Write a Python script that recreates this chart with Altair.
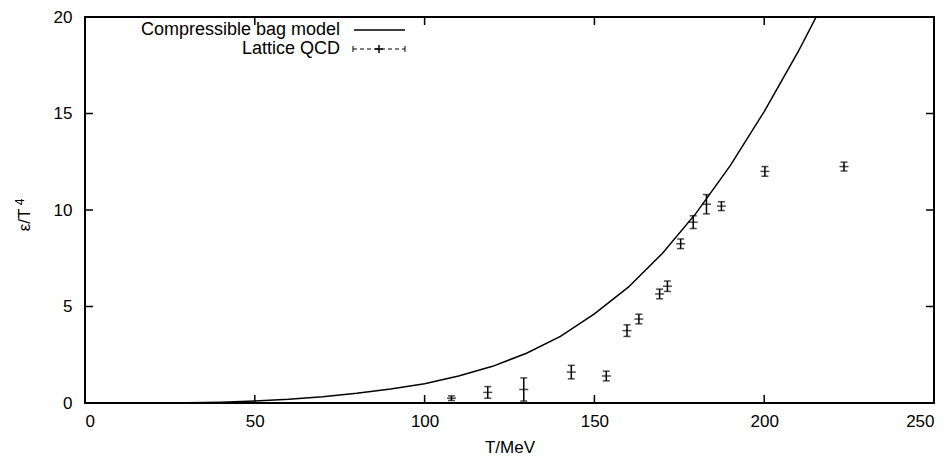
import altair as alt
import pandas as pd

# Compressible bag model curve
bag_T = [0, 10, 20, 30, 40, 50, 60, 70, 80, 90, 100, 110, 120, 130, 140, 150, 160, 170, 180, 190, 200, 210, 220]
bag_e = [0, 0, 0.002, 0.01, 0.04, 0.1, 0.19, 0.32, 0.5, 0.72, 1.0, 1.4, 1.9, 2.58, 3.45, 4.62, 6.0, 7.75, 9.85, 12.3, 15.1, 18.2, 21.6]

# Lattice QCD points with errors
lat_T = [107.9, 118.6, 129.2, 143.2, 153.5, 159.6, 163.1, 169.2, 171.5, 175.4, 179.1, 183.0, 187.4, 200.2, 223.5]
lat_e = [0.25, 0.55, 0.70, 1.60, 1.40, 3.75, 4.35, 5.65, 6.05, 8.25, 9.37, 10.30, 10.20, 12.00, 12.25]
lat_err = [0.12, 0.30, 0.60, 0.35, 0.25, 0.30, 0.25, 0.25, 0.27, 0.25, 0.33, 0.50, 0.23, 0.25, 0.23]

x_ticks = [0, 50, 100, 150, 200, 250]
y_ticks = [0, 5, 10, 15, 20]

W, H = 849, 386
FONT = "Liberation Sans"
FS = 17

bag = pd.DataFrame({"T": bag_T, "e": bag_e})
lat = pd.DataFrame({"T": lat_T, "e": lat_e,
                    "lo": [a - b for a, b in zip(lat_e, lat_err)],
                    "hi": [a + b for a, b in zip(lat_e, lat_err)]})

xs = alt.Scale(domain=[0, 250], nice=False, zero=False)
ys = alt.Scale(domain=[0, 20], nice=False, zero=False)

X = alt.X("T:Q", scale=xs, axis=alt.Axis(
    title="T/MeV", values=x_ticks, ticks=False, grid=False, domain=False,
    labelPadding=10, labelFont=FONT, labelFontSize=FS, labelColor="black",
    labelFontWeight="normal", titleFont=FONT, titleFontSize=FS, titleFontWeight="normal",
    titleColor="black", titleY=44, titleBaseline="middle"))
Y = alt.Y("e:Q", scale=ys, axis=alt.Axis(
    title="", values=y_ticks, ticks=False, grid=False, domain=False,
    labelPadding=13, labelFont=FONT, labelFontSize=FS, labelColor="black"))

line = alt.Chart(bag).mark_line(color="black", strokeWidth=1.5, clip=True).encode(x=X, y=Y)

bars = alt.Chart(lat).mark_rule(color="black", strokeWidth=1.5).encode(
    x=alt.X("T:Q", scale=xs), y=alt.Y("lo:Q", scale=ys), y2="hi:Q")
cap_lo = alt.Chart(lat).mark_tick(orient="horizontal", color="black", size=7, thickness=1.5).encode(
    x=alt.X("T:Q", scale=xs), y=alt.Y("lo:Q", scale=ys))
cap_hi = alt.Chart(lat).mark_tick(orient="horizontal", color="black", size=7, thickness=1.5).encode(
    x=alt.X("T:Q", scale=xs), y=alt.Y("hi:Q", scale=ys))
center = alt.Chart(lat).mark_tick(orient="horizontal", color="black", size=9, thickness=1.5).encode(
    x=alt.X("T:Q", scale=xs), y=alt.Y("e:Q", scale=ys))

# inward ticks on all four sides
xt = pd.DataFrame({"T": x_ticks})
yt = pd.DataFrame({"e": y_ticks})
tb = alt.Chart(xt).mark_rule(color="black", strokeWidth=1.5).encode(
    x=alt.X("T:Q", scale=xs), y=alt.value(H), y2=alt.value(H - 8))
tt = alt.Chart(xt).mark_rule(color="black", strokeWidth=1.5).encode(
    x=alt.X("T:Q", scale=xs), y=alt.value(0), y2=alt.value(8))
tl = alt.Chart(yt).mark_rule(color="black", strokeWidth=1.5).encode(
    y=alt.Y("e:Q", scale=ys), x=alt.value(0), x2=alt.value(8))
tr = alt.Chart(yt).mark_rule(color="black", strokeWidth=1.5).encode(
    y=alt.Y("e:Q", scale=ys), x=alt.value(W), x2=alt.value(W - 8))

# y-axis title: ε/T with superscript 4
ytitle = alt.Chart(pd.DataFrame({"t": ["ε/T"]})).mark_text(
    angle=270, align="center", baseline="middle", font=FONT, fontSize=FS, color="black").encode(
    text="t:N", x=alt.value(-60), y=alt.value(203))
ysup = alt.Chart(pd.DataFrame({"t": ["4"]})).mark_text(
    angle=270, align="center", baseline="middle", font=FONT, fontSize=12, color="black").encode(
    text="t:N", x=alt.value(-65), y=alt.value(185))

# legend
leg_text = alt.Chart(pd.DataFrame({"label": ["Compressible bag model"]})).mark_text(
    align="right", baseline="middle", font=FONT, fontSize=18, color="black").encode(
    text="label:N", x=alt.value(255), y=alt.value(13))
leg_text2 = alt.Chart(pd.DataFrame({"label": ["Lattice QCD"]})).mark_text(
    align="right", baseline="middle", font=FONT, fontSize=18, color="black").encode(
    text="label:N", x=alt.value(255), y=alt.value(32))
leg_l1 = alt.Chart(pd.DataFrame({"a": [0]})).mark_rule(color="black", strokeWidth=1.5).encode(
    x=alt.value(269), x2=alt.value(320), y=alt.value(13))
leg_l2 = alt.Chart(pd.DataFrame({"a": [0]})).mark_rule(color="black", strokeWidth=1, strokeDash=[4, 3]).encode(
    x=alt.value(268), x2=alt.value(320), y=alt.value(32))
leg_c1 = alt.Chart(pd.DataFrame({"a": [0]})).mark_rule(color="black", strokeWidth=1).encode(
    x=alt.value(268), y=alt.value(29), y2=alt.value(35))
leg_c2 = alt.Chart(pd.DataFrame({"a": [0]})).mark_rule(color="black", strokeWidth=1).encode(
    x=alt.value(320), y=alt.value(29), y2=alt.value(35))
leg_p = alt.Chart(pd.DataFrame({"a": [0]})).mark_rule(color="black", strokeWidth=1.5).encode(
    x=alt.value(294), y=alt.value(28), y2=alt.value(36))
leg_p2 = alt.Chart(pd.DataFrame({"a": [0]})).mark_rule(color="black", strokeWidth=1.5).encode(
    x=alt.value(290), x2=alt.value(298), y=alt.value(32))

chart = alt.layer(
    line, bars, cap_lo, cap_hi, center, tb, tt, tl, tr, ytitle, ysup,
    leg_text, leg_text2, leg_l1, leg_l2, leg_c1, leg_c2, leg_p, leg_p2
).properties(
    width=W, height=H,
    autosize=alt.AutoSizeParams(type="none"),
    padding={"left": 77, "top": 9, "right": 8, "bottom": 56},
    background="white"
).configure_view(stroke="black", strokeWidth=2)

chart.save("out.html", embed_options={"renderer": "svg", "actions": False})
